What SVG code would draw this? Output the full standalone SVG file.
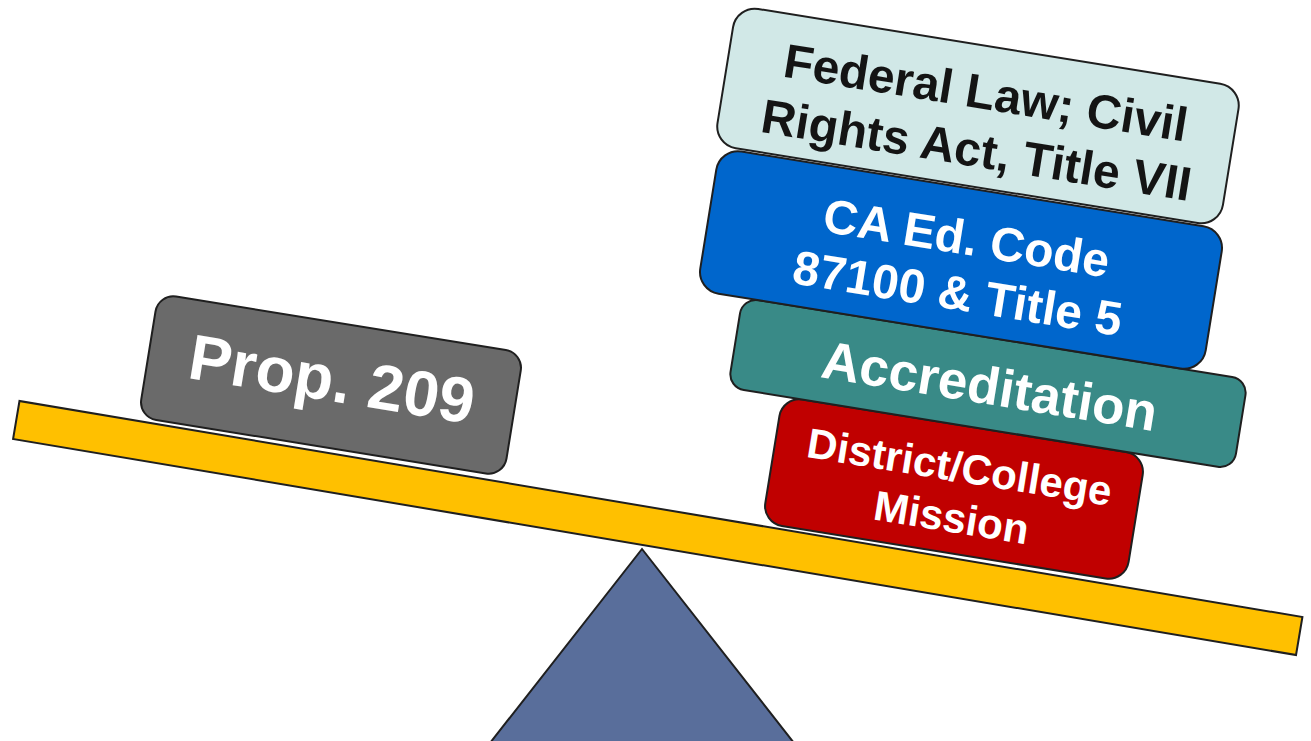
<svg xmlns="http://www.w3.org/2000/svg" width="1311" height="741" viewBox="0 0 1311 741">
<style>
.box{stroke:#1f1f1f;stroke-width:2}
.t{font-family:"Liberation Sans",Arial,sans-serif;font-weight:bold;text-anchor:middle}
.w{fill:#ffffff}
.k{fill:#141414}
</style>
<rect width="1311" height="741" fill="#ffffff"/>
<g id="fulcrum"><polygon class="box" points="642,549 490,743 794,743" fill="#596E9B"/></g>
<g id="beam" transform="translate(657.75,528) rotate(9.56)"><rect class="box" x="-650.5" y="-19.25" width="1301" height="38.5" fill="#FFC000"/></g>
<g id="prop209" transform="translate(331,385) rotate(9.2)">
<rect class="box" x="-185" y="-62.5" width="370" height="125" rx="18" fill="#6A6A6A"/>
<text class="t w" x="0" y="16" font-size="64">Prop. 209</text>
</g>
<g id="district" transform="translate(954,489) rotate(9.2)">
<rect class="box" x="-184" y="-64" width="368" height="128" rx="20" fill="#C00000"/>
<text class="t w" font-size="42"><tspan x="2" y="-8">District/College</tspan><tspan x="2" y="43">Mission</tspan></text>
</g>
<g id="accreditation" transform="translate(988,383.5) rotate(9.2)">
<rect class="box" x="-256" y="-45.5" width="512" height="91" rx="16" fill="#398A87"/>
<text class="t w" x="2" y="20.5" font-size="53">Accreditation</text>
</g>
<g id="caedcode" transform="translate(961,260) rotate(9.2)">
<rect class="box" x="-256" y="-72" width="512" height="144" rx="22" fill="#0066CC"/>
<text class="t w" font-size="48"><tspan x="2" y="-6">CA Ed. Code</tspan><tspan x="2" y="50">87100 &amp; Title 5</tspan></text>
</g>
<g id="federal" transform="translate(978,116) rotate(9.2)">
<rect class="box" x="-256" y="-70.5" width="512" height="141" rx="22" fill="#D1E8E7"/>
<text class="t k" font-size="48"><tspan x="4" y="-7.7">Federal Law; Civil</tspan><tspan x="4" y="50.4">Rights Act, Title VII</tspan></text>
</g>
<g id="connectors"></g>
</svg>
